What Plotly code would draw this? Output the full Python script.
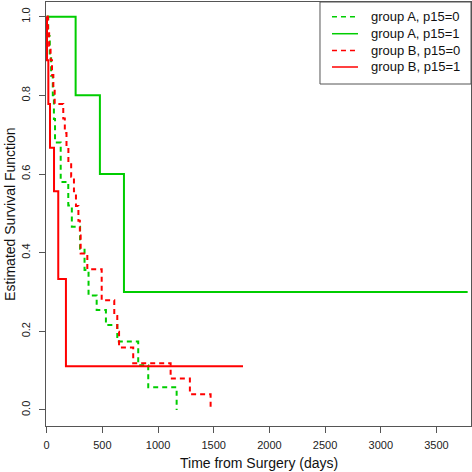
import plotly.graph_objects as go

# Kaplan-Meier step curves: (time in days, survival after that time)
a0_days = [0, 14, 28, 40, 55, 65, 75, 126, 194, 226, 300, 340, 376, 449, 532, 634, 822, 912, 1167]
a0_surv = [1.0, 0.95, 0.90, 0.85, 0.80, 0.74, 0.68, 0.58, 0.52, 0.466, 0.41, 0.356, 0.291, 0.254, 0.216, 0.174, 0.114, 0.058, 0.0]

a1_days = [0, 260, 478, 694, 3780]
a1_surv = [1.0, 0.8, 0.6, 0.3, 0.3]

b0_days = [0, 12, 22, 35, 48, 60, 72, 149, 163, 178, 195, 220, 245, 263, 285, 298, 305, 365,
           494, 607, 634, 650, 777, 1113, 1286, 1472]
b0_surv = [1.0, 0.963, 0.926, 0.889, 0.852, 0.815, 0.778, 0.741, 0.704, 0.667, 0.630, 0.593, 0.556,
           0.519, 0.481, 0.444, 0.398, 0.358, 0.279, 0.239, 0.199, 0.159, 0.119, 0.080, 0.040, 0.0]

b1_days = [0, 3, 15, 30, 66, 104, 173, 1763]
b1_surv = [1.0, 0.889, 0.778, 0.667, 0.556, 0.333, 0.111, 0.111]

x_ticks = [0, 500, 1000, 1500, 2000, 2500, 3000, 3500]
y_ticks = [0.0, 0.2, 0.4, 0.6, 0.8, 1.0]
y_tick_text = ["0.0", "0.2", "0.4", "0.6", "0.8", "1.0"]

legend_names = ["group A, p15=0", "group A, p15=1", "group B, p15=0", "group B, p15=1"]

GREEN = "#00CD00"
RED = "#FF0000"
DASH = "5px,4px"
FONT = "Liberation Sans, Arial, sans-serif"
FRAME = "#555555"

series = [
    (legend_names[0], a0_days, a0_surv, GREEN, DASH),
    (legend_names[1], a1_days, a1_surv, GREEN, "solid"),
    (legend_names[2], b0_days, b0_surv, RED, DASH),
    (legend_names[3], b1_days, b1_surv, RED, "solid"),
]

fig = go.Figure()
for name, xs, ys, col, dash in series:
    fig.add_trace(go.Scatter(
        x=xs, y=ys, name=name, mode="lines", showlegend=False,
        line=dict(shape="hv", color=col, width=2, dash=dash),
    ))

axis_common = dict(
    showgrid=False, zeroline=False, showline=True, mirror=True,
    linecolor=FRAME, linewidth=1, automargin=False,
    ticks="outside", ticklen=6, tickcolor=FRAME,
    tickfont=dict(family=FONT, size=11, color="#222222"),
)

# Legend box drawn in the top-right corner of the plotting area (paper coords)
shapes = [dict(type="rect", xref="paper", yref="paper", x0=0.6447, x1=1.0, y0=0.8066, y1=1.0,
               line=dict(color=FRAME, width=1), fillcolor="white", layer="above")]
annotations = []
row_y = [0.9653, 0.9252, 0.8858, 0.8467]
for (name, _, _, col, dash), ry in zip(series, row_y):
    shapes.append(dict(type="line", xref="paper", yref="paper", x0=0.6729, x1=0.7341, y0=ry, y1=ry,
                       line=dict(color=col, width=1.5, dash=dash), layer="above"))
    annotations.append(dict(text=name, xref="paper", yref="paper", x=0.76, y=ry,
                            xanchor="left", yanchor="middle", showarrow=False,
                            font=dict(size=13, family=FONT, color="#111111")))

annotations += [
    dict(text="Time from Surgery (days)", xref="paper", yref="paper",
         x=0.5, y=-0.088, xanchor="center", yanchor="middle", showarrow=False,
         font=dict(size=14, family=FONT, color="#111111")),
    dict(text="Estimated Survival Function", xref="paper", yref="paper",
         x=-0.085, y=0.5, xanchor="center", yanchor="middle", showarrow=False,
         textangle=-90, font=dict(size=14, family=FONT, color="#111111")),
]

fig.update_layout(
    width=472, height=472,
    margin=dict(l=46, r=1, t=2, b=46, autoexpand=False),
    plot_bgcolor="white", paper_bgcolor="white",
    font=dict(family=FONT, color="#111111"),
    xaxis=dict(range=[-6, 3810], tickvals=x_ticks, ticklabelstandoff=3, **axis_common),
    yaxis=dict(range=[-0.0407, 1.0374], tickvals=y_ticks, ticktext=y_tick_text, tickangle=-90,
               ticklabelstandoff=5, **axis_common),
    showlegend=False,
    shapes=shapes,
    annotations=annotations,
)

fig.write_html("out.html", config={"displayModeBar": False},
               post_script="document.body.style.margin='0';document.body.style.padding='0';")
